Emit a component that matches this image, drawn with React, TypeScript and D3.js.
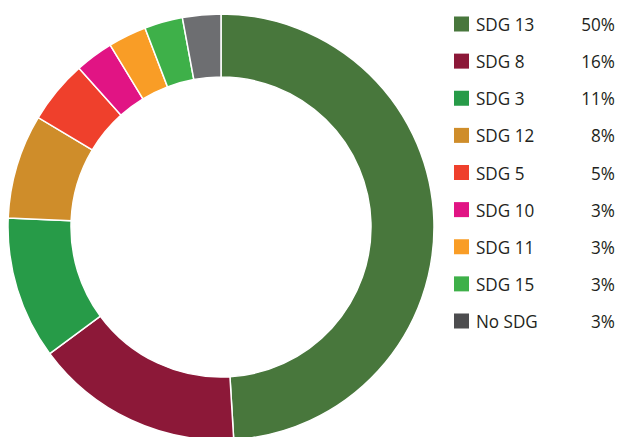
import React from "react";
import * as d3 from "d3";

const categories = ["SDG 13", "SDG 8", "SDG 3", "SDG 12", "SDG 5", "SDG 10", "SDG 11", "SDG 15", "No SDG"];
const shares = [49, 15.8, 10.8, 7.9, 4.8, 2.9, 2.9, 2.9, 2.9];
const pctLabels = ["50%", "16%", "11%", "8%", "5%", "3%", "3%", "3%", "3%"];
const colors = ["#48773C", "#8C1838", "#279B48", "#CF8D2A", "#EF402C", "#E11484", "#F99D26", "#3EB049", "#6D6E71"];
const legendColors = ["#48773C", "#8C1838", "#279B48", "#CF8D2A", "#EF402C", "#E11484", "#F99D26", "#3EB049", "#4D4D4F"];

export default function App() {
  const W = 618, H = 437;
  const cx = 221, cy = 227, rOuter = 213, rInner = 150;
  const pie = d3.pie<number>().value((d) => d).sort(null);
  const arcs = pie(shares);
  const arc = d3.arc<d3.PieArcDatum<number>>().innerRadius(rInner).outerRadius(rOuter);
  const rowY = d3.scaleLinear().domain([0, categories.length - 1]).range([24, 321]);
  return (
    <svg width={W} height={H} style={{ position: "absolute", left: 0, top: 0, background: "#fff" }}>
      <g transform={`translate(${cx},${cy})`}>
        {arcs.map((a, i) => (
          <path key={i} d={arc(a) || ""} fill={colors[i]} stroke="#fff" strokeWidth={1.5} />
        ))}
      </g>
      <g fontFamily="'Open Sans', sans-serif" fontSize={19} fill="#231F20">
        {categories.map((c, i) => (
          <g key={c} transform={`translate(0,${rowY(i)})`}>
            <rect x={454} y={-7.5} width={15} height={15} fill={legendColors[i]} />
            <text transform="translate(476,7) scale(0.9,1)">{c}</text>
            <text transform="translate(615,7) scale(0.9,1)" textAnchor="end">{pctLabels[i]}</text>
          </g>
        ))}
      </g>
    </svg>
  );
}
